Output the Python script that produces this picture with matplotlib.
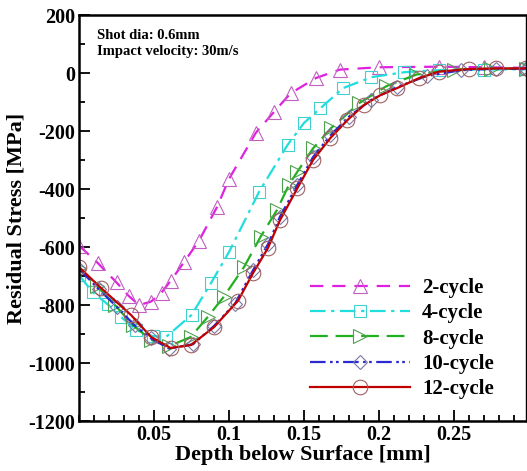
import matplotlib
matplotlib.use("Agg")
import matplotlib.pyplot as plt
from matplotlib.ticker import MultipleLocator, FixedLocator

plt.rcParams['font.family'] = ['Liberation Serif', 'DejaVu Serif']
plt.rcParams['font.weight'] = 'bold'
plt.rcParams['axes.unicode_minus'] = False

# depth [mm] and residual stress [MPa]
x2 = [0.0, 0.0125, 0.025, 0.033, 0.040, 0.048, 0.055, 0.061, 0.070, 0.080, 0.092, 0.100,
      0.118, 0.130, 0.141, 0.158, 0.174, 0.200, 0.240, 0.270, 0.298]
y2 = [-595, -655, -722, -768, -800, -788, -757, -717, -652, -578, -462, -365,
      -205, -134, -70, -17, 12, 20, 22, 20, 18]

x4 = [0.0, 0.009, 0.019, 0.028, 0.038, 0.049, 0.058, 0.075, 0.088, 0.100, 0.120,
      0.139, 0.150, 0.161, 0.176, 0.195, 0.217, 0.240, 0.270, 0.298]
y4 = [-697, -755, -797, -841, -886, -907, -910, -834, -724, -617, -410,
      -248, -172, -121, -52, -14, 3, 10, 12, 13]

x8 = [0.0, 0.012, 0.024, 0.036, 0.048, 0.060, 0.0745, 0.0858, 0.0964, 0.110, 0.121,
      0.132, 0.140, 0.1456, 0.156, 0.168, 0.187, 0.205, 0.225, 0.250, 0.275, 0.298]
y8 = [-672, -735, -800, -870, -920, -942, -910, -841, -772, -669, -565,
      -472, -385, -340, -260, -190, -103, -45, -5, 12, 15, 15]

x10 = [0.0, 0.013, 0.025, 0.037, 0.048, 0.060, 0.076, 0.090, 0.104, 0.116, 0.126,
       0.134, 0.1456, 0.156, 0.1676, 0.180, 0.195, 0.212, 0.232, 0.255, 0.278, 0.298]
y10 = [-675, -745, -805, -870, -915, -950, -935, -872, -795, -680, -590,
       -495, -385, -290, -215, -150, -92, -48, -10, 10, 15, 15]

x12 = [0.0, 0.0146, 0.0346, 0.048, 0.061, 0.0745, 0.090, 0.106, 0.116, 0.126, 0.134,
       0.1456, 0.156, 0.1676, 0.179, 0.190, 0.201, 0.212, 0.227, 0.240, 0.260, 0.278, 0.298]
y12 = [-669, -741, -834, -910, -948, -938, -876, -785, -690, -603, -507,
       -397, -300, -224, -162, -110, -76, -52, -17, 5, 14, 16, 16]

labels = ['2-cycle', '4-cycle', '8-cycle', '10-cycle', '12-cycle']

fig = plt.figure(figsize=(5.27, 4.71), dpi=100)
ax = fig.add_axes([0.150, 0.106, 0.848, 0.862])

ax.plot(x2, y2, color='#e020e0', lw=1.6, dashes=(6, 4), marker='^', ms=9.5,
        mfc='none', mec='#c060c0', mew=0.8, label=labels[0])
ax.plot(x4, y4, color='#20dede', lw=1.6, dashes=(7, 2.5, 1.5, 2.5), marker='s', ms=8.5,
        mfc='none', mec='#40d0d0', mew=0.8, label=labels[1])
ax.plot(x8, y8, color='#20b020', lw=1.6, dashes=(8, 3.5), marker='>', ms=9.5,
        mfc='none', mec='#50a050', mew=0.8, label=labels[2])
ax.plot(x10, y10, color='#2a2ad0', lw=1.6, dashes=(7, 2, 1.2, 1.5, 1.2, 2), marker='D', ms=7.5,
        mfc='none', mec='#7878a8', mew=0.8, label=labels[3])
ax.plot(x12, y12, color='#c00000', lw=1.6, ls='-', marker='o', ms=10.5,
        mfc='none', mec='#a06060', mew=0.8, label=labels[4])

ax.set_xlim(0, 0.298)
ax.set_ylim(-1200, 200)
ax.xaxis.set_major_locator(FixedLocator([0.05, 0.1, 0.15, 0.2, 0.25]))
ax.set_xticklabels(['0.05', '0.1', '0.15', '0.2', '0.25'])
ax.xaxis.set_minor_locator(MultipleLocator(0.01))
ax.yaxis.set_major_locator(MultipleLocator(200))
ax.yaxis.set_minor_locator(MultipleLocator(100))
ax.tick_params(which='both', direction='in', top=False, right=False, width=1.3)
ax.tick_params(which='major', length=8, labelsize=14.5, pad=3)
ax.tick_params(which='minor', length=4)
for lab in ax.get_xticklabels() + ax.get_yticklabels():
    lab.set_fontweight('bold')
for side in ['left', 'bottom', 'top']:
    ax.spines[side].set_linewidth(1.8)
ax.spines['right'].set_linewidth(1.0)

ax.set_xlabel('Depth below Surface [mm]', fontsize=16, fontweight='bold', labelpad=0)
ax.set_ylabel('Residual Stress [MPa]', fontsize=16, fontweight='bold', labelpad=1)

ax.text(0.04, 0.965, 'Shot dia: 0.6mm\nImpact velocity: 30m/s', transform=ax.transAxes,
        fontsize=10.5, fontweight='bold', va='top', ha='left', linespacing=1.3)

ax.legend(loc='lower right', bbox_to_anchor=(0.97, 0.008), frameon=False, numpoints=1,
          handlelength=4.8, handletextpad=0.6, labelspacing=0.25,
          prop={'size': 15, 'weight': 'bold'})

fig.savefig('out.png', dpi=100)
